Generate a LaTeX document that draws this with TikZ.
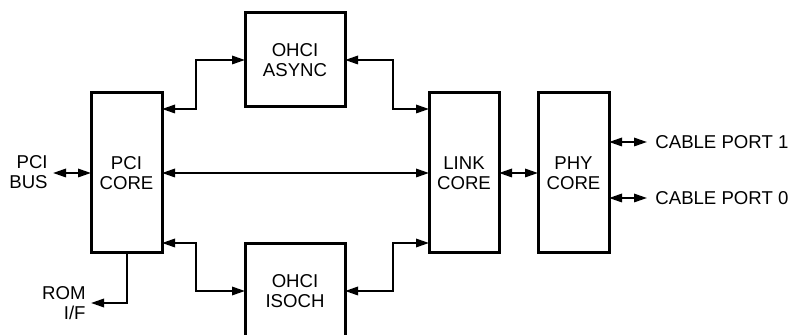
\documentclass[tikz,border=0pt]{standalone}
\usepackage{fontspec}
\setmainfont{Liberation Sans}
\usetikzlibrary{arrows.meta}
\begin{document}
\begin{tikzpicture}[x=0.5pt,y=-0.5pt,
  blk/.style={draw,line width=1.5pt,inner sep=0pt,outer sep=0pt,align=center,
    font=\fontsize{9.3}{10}\selectfont},
  lbl/.style={inner sep=0pt,font=\fontsize{9.3}{10}\selectfont},
  conn/.style={line width=1pt,arrows={Triangle[length=6.5pt,width=4.2pt]-Triangle[length=6.5pt,width=4.2pt]}},
  one/.style={line width=1pt,-{Triangle[length=6.5pt,width=4.2pt]}}]
\useasboundingbox (0,0) rectangle (790,335);
\node[blk,minimum width=35.5pt,minimum height=80pt] (pci) at (126.5,173) {PCI\\CORE};
\node[blk,minimum width=50pt,minimum height=47pt] (async) at (295,60) {OHCI\\ASYNC};
\node[blk,minimum width=50pt,minimum height=47pt] (isoch) at (295,291) {OHCI\\ISOCH};
\node[blk,minimum width=35pt,minimum height=80pt] (link) at (464,173) {LINK\\CORE};
\node[blk,minimum width=35.5pt,minimum height=80pt] (phy) at (573.5,173) {PHY\\CORE};
\node[lbl,align=right,anchor=east] (pcibus) at (48,172) {PCI\\BUS};
\node[lbl,align=right,anchor=east] (rom) at (86,303) {ROM\\I/F};
\node[lbl,anchor=west] (cp1) at (655,142) {CABLE PORT 1};
\node[lbl,anchor=west] (cp0) at (655,198) {CABLE PORT 0};
\coordinate (bus) at (53,173);
\coordinate (romend) at (91,303);
\coordinate (p1) at (647,142);
\coordinate (p0) at (647,198);
% connectors
\draw[conn] (bus) -- (pci.west);
\draw[conn] (pci.east) -- (link.west);
\draw[conn] (link.east) -- (phy.east -| phy.west);
\draw[conn] (phy.east |- p1) -- (p1);
\draw[conn] (phy.east |- p0) -- (p0);
\draw[conn] (pci.east |- 0,109) -| (196,109) |- (async.west);
\draw[conn] (pci.east |- 0,243) -| (196,243) |- (isoch.west);
\draw[conn] (async.east) -| (393,60) |- (link.west |- 0,109);
\draw[conn] (isoch.east) -| (393,291) |- (link.west |- 0,243);
\draw[one] (pci.south -| 127,0) |- (romend);
\end{tikzpicture}
\end{document}
